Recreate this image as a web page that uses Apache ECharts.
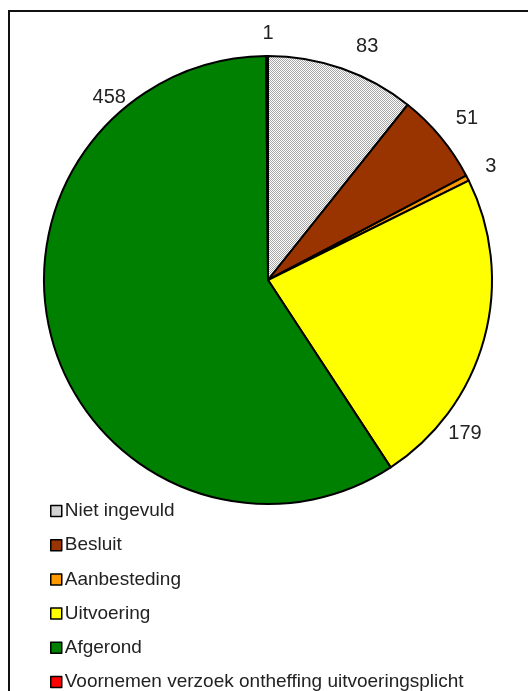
<!DOCTYPE html>
<html>
<head>
<meta charset="utf-8">
<script src="https://cdn.jsdelivr.net/npm/echarts@6/dist/echarts.min.js"></script>
<style>
html,body{margin:0;padding:0;background:#fff;overflow:hidden;}
#chart{width:528px;height:760px;}
</style>
</head>
<body>
<div id="chart"></div>
<script>
// ---- data ----
var categories = ['Niet ingevuld', 'Besluit', 'Aanbesteding', 'Uitvoering', 'Afgerond', 'Voornemen verzoek ontheffing uitvoeringsplicht'];
var values = [83, 51, 3, 179, 458, 1];

// ---- styles / layout ----
var sliceColors = [null, '#993300', '#FF9900', '#FFFF00', '#008000', '#FF0000'];
// label placement: [angle in degrees clockwise from top, distance from centre]
var labelPolar = [[23, 254], [51, 256], [63, 250], [128, 250], [319, 242], [0, 247]];
var cx = 268, cy = 280, R = 224;

// dotted grey pattern for "Niet ingevuld"
var pc = document.createElement('canvas');
pc.width = 2; pc.height = 2;
var pctx = pc.getContext('2d');
pctx.fillStyle = '#ffffff'; pctx.fillRect(0, 0, 2, 2);
pctx.fillStyle = '#a6a6a6'; pctx.fillRect(0, 0, 1, 1); pctx.fillRect(1, 1, 1, 1);
sliceColors[0] = {image: pc, repeat: 'repeat'};

var seriesData = categories.map(function (c, i) {
  return {name: c, value: values[i], itemStyle: {color: sliceColors[i]}};
});

var chart = echarts.init(document.getElementById('chart'), null, {renderer: 'canvas'});
chart.setOption({
  animation: false,
  backgroundColor: '#ffffff',
  graphic: [{
    type: 'rect',
    shape: {x: 9, y: 11, width: 700, height: 900},
    style: {fill: 'none', stroke: '#111', lineWidth: 2},
    z: 0
  }],
  legend: {
    orient: 'vertical',
    left: 50,
    top: 501,
    height: 250,
    padding: 0,
    itemWidth: 11,
    itemHeight: 11,
    itemGap: 14.2,
    icon: 'rect',
    textStyle: {fontFamily: 'Liberation Sans, Arial, sans-serif', fontSize: 19, color: '#222', lineHeight: 20, padding: [0, 0, 0, -2]},
    itemStyle: {borderColor: '#000', borderWidth: 1.5},
    data: categories
  },
  series: [{
    type: 'pie',
    center: [cx, cy],
    radius: R,
    startAngle: 90,
    clockwise: true,
    silent: true,
    avoidLabelOverlap: false,
    itemStyle: {borderColor: '#000', borderWidth: 2},
    label: {
      show: true,
      position: 'outside',
      formatter: '{c}',
      fontFamily: 'Liberation Sans, Arial, sans-serif',
      fontSize: 20,
      color: '#222'
    },
    labelLine: {show: false},
    labelLayout: function (params) {
      var p = labelPolar[params.dataIndex];
      var a = p[0] * Math.PI / 180;
      return {
        x: cx + p[1] * Math.sin(a),
        y: cy - p[1] * Math.cos(a),
        align: 'center',
        verticalAlign: 'middle'
      };
    },
    data: seriesData
  }]
});
</script>
</body>
</html>
